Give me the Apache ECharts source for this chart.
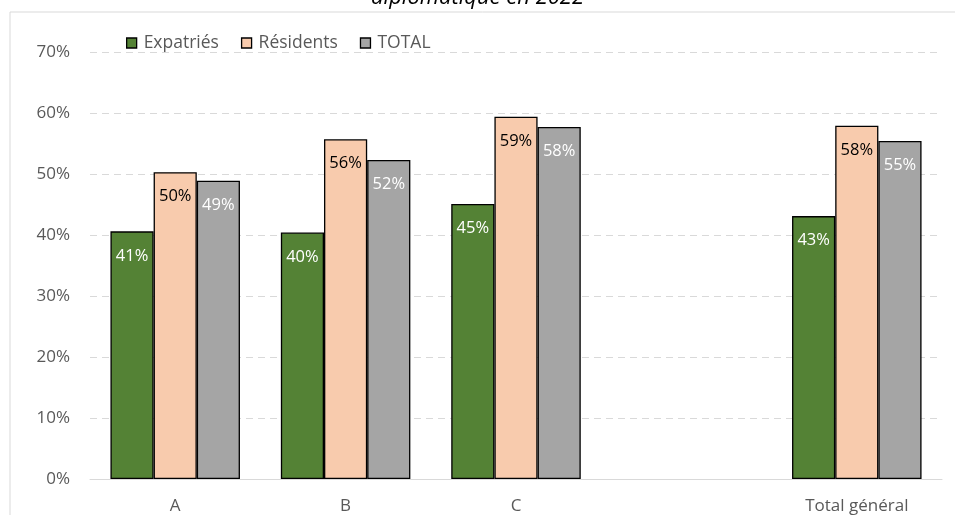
<!DOCTYPE html>
<html>
<head>
<meta charset="utf-8">
<script src="https://cdn.jsdelivr.net/npm/echarts@6/dist/echarts.min.js"></script>
<style>html,body{margin:0;padding:0;background:#fff}#c{width:955px;height:515px}</style>
</head>
<body>
<div id="c"></div>
<script>
const categories = ['A', 'B', 'C', '', 'Total général'];
const expatries = [0.406, 0.404, 0.451, null, 0.431];
const residents = [0.503, 0.557, 0.594, null, 0.579];
const total = [0.489, 0.523, 0.577, null, 0.554];
const yTicks = [0, 0.1, 0.2, 0.3, 0.4, 0.5, 0.6, 0.7];

const FONT = 'Open Sans';
const pct = v => Math.round(v * 100) + '%';
function mk(name, data, color, labelColor) {
  return {
    name, type: 'bar', data, barGap: '0%', barCategoryGap: '24%',
    itemStyle: { color, borderColor: '#000', borderWidth: 1.3 },
    label: { show: true, position: 'insideTop', distance: 16, color: labelColor,
      fontFamily: FONT, fontSize: 16.5, formatter: p => pct(p.value) }
  };
}
const chart = echarts.init(document.getElementById('c'));
chart.setOption({
  animation: false,
  title: { text: 'diplomatique en 2022', left: 'center', top: -18,
    textStyle: { fontFamily: FONT, fontStyle: 'italic', fontWeight: 'normal', fontSize: 22, color: '#000' } },
  graphic: [{ type: 'polyline', shape: { points: [[10, 515], [10, 12], [955, 12]] },
    style: { stroke: '#d9d9d9', lineWidth: 1, fill: null }, silent: true }],
  legend: { left: 121, top: 29, icon: 'rect', itemWidth: 10, itemHeight: 10, itemGap: 22,
    itemStyle: { borderColor: '#000', borderWidth: 1.3 },
    textStyle: { fontFamily: FONT, fontSize: 17.5, color: '#595959', padding: [0, 0, 0, 2] },
    data: ['Expatriés', 'Résidents', 'TOTAL'] },
  grid: { left: 90, right: 13, top: 52, bottom: 35, containLabel: false },
  xAxis: { type: 'category', data: categories,
    axisLine: { lineStyle: { color: '#d9d9d9', width: 1 } }, axisTick: { show: false },
    axisLabel: { fontFamily: FONT, fontSize: 17, color: '#595959', margin: 19 } },
  yAxis: { type: 'value', min: 0, max: 0.7, interval: 0.1,
    axisLine: { show: false }, axisTick: { show: false },
    splitLine: { lineStyle: { color: '#d9d9d9', type: [7, 5], width: 1 } },
    axisLabel: { fontFamily: FONT, fontSize: 17, color: '#595959', margin: 20,
      formatter: v => yTicks.some(t => Math.abs(t - v) < 1e-9) ? Math.round(v * 100) + '%' : '' } },
  series: [
    mk('Expatriés', expatries, '#548235', '#fff'),
    mk('Résidents', residents, '#f8cbad', '#000'),
    mk('TOTAL', total, '#a5a5a5', '#fff')
  ]
});
</script>
</body>
</html>
